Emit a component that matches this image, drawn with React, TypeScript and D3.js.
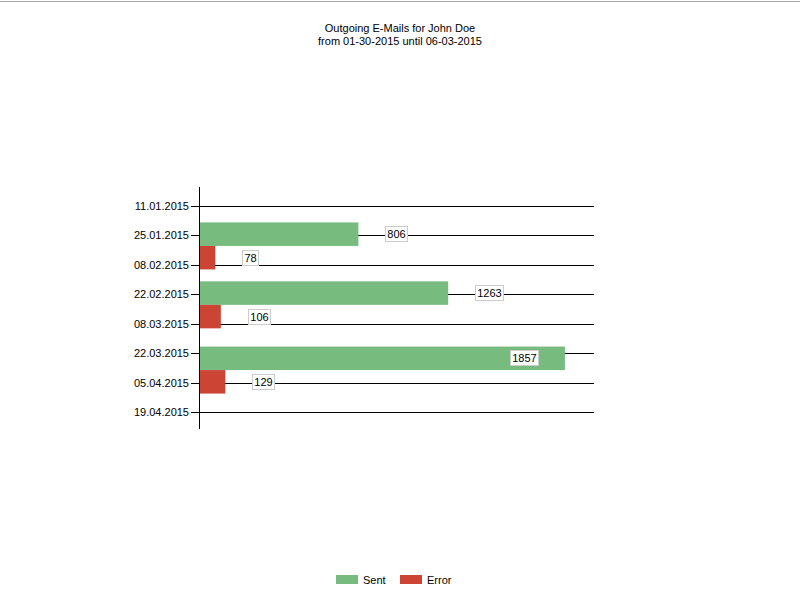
import React from "react";
import * as d3 from "d3";

const titleLines = ["Outgoing E-Mails for John Doe", "from 01-30-2015 until 06-03-2015"];
const periods = ["2015-01-30", "2015-02-27", "2015-03-30"];
const sentValues = [806, 1263, 1857];
const errorValues = [78, 106, 129];
const tickDates = ["2015-01-11", "2015-01-25", "2015-02-08", "2015-02-22", "2015-03-08", "2015-03-22", "2015-04-05", "2015-04-19"];
const seriesNames = ["Sent", "Error"];
const seriesColors = ["#77BB7E", "#CC4434"];

const parse = d3.utcParse("%Y-%m-%d");
const fmt = d3.utcFormat("%d.%m.%Y");
const FONT = "'Liberation Sans', Arial, sans-serif";

export default function App() {
  const plotLeft = 200;
  const plotRight = 594;
  const yTop = 187;
  const yBottom = 429;
  const y = d3
    .scaleUtc()
    .domain([parse("2015-01-02")!, parse("2015-04-27")!])
    .range([yTop, yBottom]);
  const x = d3.scaleLinear().domain([0, 2005]).range([plotLeft, plotRight]);
  const barH = 23.5;

  const bars: { v: number; y0: number; color: string }[] = [];
  periods.forEach((p, i) => {
    const c = y(parse(p)!);
    bars.push({ v: sentValues[i], y0: c - barH, color: seriesColors[0] });
    bars.push({ v: errorValues[i], y0: c, color: seriesColors[1] });
  });

  return (
    <svg
      width={800}
      height={600}
      style={{ position: "absolute", left: 0, top: 0, background: "#fff" }}
      fontFamily={FONT}
    >
      <rect x={0} y={0} width={800} height={600} fill="#fff" />
      <rect x={0} y={1} width={800} height={1} fill="#a8a8a8" />
      {titleLines.map((t, i) => (
        <text key={i} x={400} y={32 + i * 12.5} textAnchor="middle" fontSize={11} fill="#000">
          {t}
        </text>
      ))}
      {tickDates.map((d) => {
        const ty = Math.round(y(parse(d)!)) + 0.5;
        return (
          <g key={d}>
            <line x1={191} x2={plotRight} y1={ty} y2={ty} stroke="#000" strokeWidth={1} />
            <text x={189} y={ty + 3.5} textAnchor="end" fontSize={11} fill="#000">
              {fmt(parse(d)!)}
            </text>
          </g>
        );
      })}
      <line x1={199.5} x2={199.5} y1={yTop} y2={yBottom} stroke="#000" strokeWidth={1} />
      {bars.map((b, i) => (
        <rect key={i} x={plotLeft} y={b.y0} width={x(b.v) - plotLeft} height={barH} fill={b.color} />
      ))}
      {bars.map((b, i) => {
        const label = String(b.v);
        const w = label.length * 6.12 + 4;
        const end = x(b.v);
        const cy = b.y0 + barH / 2;
        let bx = end + 27;
        if (bx + w > plotRight) bx = end - 26 - w;
        return (
          <g key={"l" + i}>
            <rect x={Math.round(bx) + 0.5} y={Math.round(cy - 8) + 0.5} width={Math.round(w)} height={15} fill="#fff" stroke="#cccccc" strokeWidth={1} />
            <text x={Math.round(bx) + 0.5 + Math.round(w) / 2} y={Math.round(cy - 8) + 12} textAnchor="middle" fontSize={11} fill="#000">
              {label}
            </text>
          </g>
        );
      })}
      {seriesNames.map((n, i) => {
        const lx = 336 + i * 64;
        return (
          <g key={n}>
            <rect x={lx} y={575} width={22} height={9} fill={seriesColors[i]} />
            <text x={lx + 27} y={584} fontSize={11} fill="#000">
              {n}
            </text>
          </g>
        );
      })}
    </svg>
  );
}
